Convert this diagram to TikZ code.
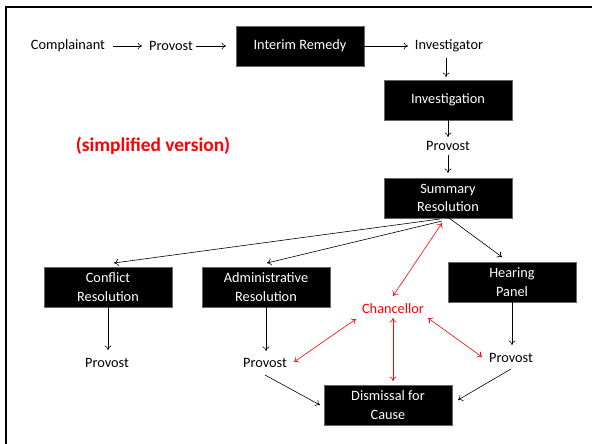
\documentclass[tikz,border=0pt]{standalone}
\usepackage{fontspec}
\setmainfont{Carlito}
\usetikzlibrary{arrows.meta,calc}
\begin{document}
\begin{tikzpicture}[x=1pt,y=-1pt,
  lbl/.style={font=\fontsize{14.3}{17}\selectfont, inner sep=0pt},
  blk/.style={fill=black, text=white, draw=black!60, line width=0.4pt, font=\fontsize{14.3}{18.5}\selectfont, align=center, minimum width=128pt, minimum height=40pt, inner sep=1pt},
  arr/.style={-{To[length=4.5pt,width=7pt]}, line width=0.6pt},
  rarr/.style={{To[length=4.5pt,width=7pt]}-{To[length=4.5pt,width=7pt]}, line width=0.6pt, red},
  frame/.style={line width=2.2pt}
]
\useasboundingbox (0,0) rectangle (592,444);
\draw[frame] (6,444) -- (6,7) -- (592,7);

\node[lbl] (compl) at (68,46) {Complainant};
\node[lbl] (prov1) at (171,46) {Provost};
\node[blk] (interim) at (300,46) {Interim Remedy};
\node[lbl] (invor) at (449,46) {Investigator};
\node[blk] (invon) at (448,100) {Investigation};
\node[lbl] (prov2) at (448,146) {Provost};
\node[blk] (summ) at (448,198) {Summary\\Resolution};
\node[blk] (confl) at (108,287) {Conflict\\Resolution};
\node[blk] (admin) at (266,287) {Administrative\\Resolution};
\node[blk] (hear) at (512,282) {Hearing\\Panel};
\node[lbl, text=red] (chanc) at (393,309) {Chancellor};
\node[lbl] (prov3) at (107,363) {Provost};
\node[lbl] (prov4) at (265,363) {Provost};
\node[lbl] (prov5) at (511,358) {Provost};
\node[blk] (dism) at (388,405) {Dismissal for\\Cause};
\node[font=\fontsize{19.4}{22}\selectfont\bfseries, text=red, inner sep=0pt] (simp) at (153,146) {(simplified version)};

\draw[arr] ($(compl)+(45,0)$) -- ($(prov1)+(-29,0)$);
\draw[arr] ($(prov1)+(25,0)$) -- ($(interim)+(-74,0)$);
\draw[arr] (interim.east) -- ($(invor)+(-41,0)$);
\draw[arr] ($(invor)+(-3,12)$) -- ($(invon)+(-2,-23)$);
\draw[arr] (invon.south) -- ($(prov2)+(0,-9)$);
\draw[arr] ($(prov2)+(0,9)$) -- ($(summ)+(0,-25)$);
\draw[arr] ($(summ)+(-8,21)$) -- ($(confl)+(6,-24)$);
\draw[arr] ($(summ)+(-6,23)$) -- ($(admin)+(1,-24)$);
\draw[arr] ($(summ)+(1,20)$) -- ($(hear)+(-10,-25)$);
\draw[rarr] ($(summ)+(-6,25)$) -- ($(chanc)+(0,-13)$);
\draw[arr] (confl.south) -- ($(prov3)+(1,-13)$);
\draw[arr] (admin.south) -- ($(prov4)+(1,-12)$);
\draw[arr] (hear.south) -- ($(prov5)+(1,-13)$);
\draw[rarr] ($(chanc)+(-37,10)$) -- ($(prov4)+(29,-1)$);
\draw[rarr] ($(chanc)+(35,9)$) -- ($(prov5)+(-29,-1)$);
\draw[rarr] ($(chanc)+(0,9)$) -- ($(dism)+(5,-24)$);
\draw[arr] ($(prov4)+(0,12)$) -- ($(dism)+(-68,0)$);
\draw[arr] ($(prov5)+(0,11)$) -- ($(dism)+(70,-5)$);
\end{tikzpicture}
\end{document}
